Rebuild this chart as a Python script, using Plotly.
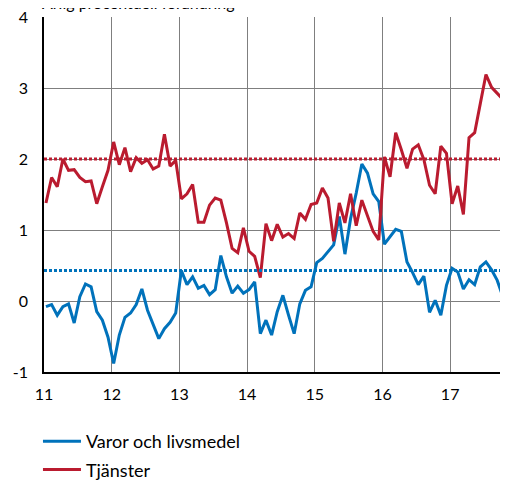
import pandas as pd
import plotly.graph_objects as go

months = pd.date_range("2011-01-01", periods=83, freq="MS")

varor = [-0.08, -0.05, -0.20, -0.08, -0.04, -0.31, 0.06, 0.24, 0.20, -0.15, -0.27, -0.51,
         -0.88, -0.48, -0.23, -0.17, -0.05, 0.17, -0.13, -0.33, -0.53, -0.39, -0.30, -0.17,
         0.43, 0.23, 0.34, 0.18, 0.22, 0.09, 0.16, 0.64, 0.34, 0.11, 0.21, 0.11,
         0.16, 0.27, -0.46, -0.27, -0.48, -0.15, 0.08, -0.20, -0.46, -0.04, 0.15, 0.20,
         0.54, 0.60, 0.69, 0.79, 1.19, 0.66, 1.16, 1.52, 1.93, 1.80, 1.51, 1.40,
         0.80, 0.91, 1.01, 0.98, 0.55, 0.40, 0.23, 0.35, -0.16, 0.01, -0.20, 0.22,
         0.46, 0.41, 0.17, 0.30, 0.23, 0.48, 0.55, 0.44, 0.29, 0.06, 0.46]

tjanster = [1.38, 1.74, 1.61, 2.00, 1.84, 1.85, 1.74, 1.68, 1.69, 1.37, 1.61, 1.84,
            2.24, 1.92, 2.16, 1.82, 2.02, 1.94, 1.99, 1.86, 1.90, 2.35, 1.90, 1.98,
            1.44, 1.51, 1.64, 1.11, 1.11, 1.35, 1.45, 1.42, 1.10, 0.74, 0.68, 1.03,
            0.70, 0.63, 0.33, 1.09, 0.85, 1.08, 0.90, 0.95, 0.88, 1.24, 1.15, 1.36,
            1.38, 1.59, 1.45, 0.84, 1.38, 1.10, 1.51, 1.06, 1.42, 1.21, 0.98, 0.86,
            2.03, 1.75, 2.37, 2.13, 1.87, 2.14, 2.20, 1.99, 1.63, 1.51, 2.18, 2.08,
            1.37, 1.62, 1.22, 2.30, 2.37, 2.78, 3.19, 3.01, 2.93, 2.84, 2.45]

target_varor = 0.43
target_tjanster = 2.0

x_tick_vals = [11, 12, 13, 14, 15, 16, 17]
x_tick_text = ["11", "12", "13", "14", "15", "16", "17"]
y_tick_vals = [-1, 0, 1, 2, 3, 4]
y_tick_text = ["-1", "0", "1", "2", "3", "4"]

# decimal year (two-digit), points plotted slightly into each month
x = [(d.year - 2000) + (d.month - 1 + 0.35) / 12 for d in months]

BLUE = "#0072BB"
RED = "#BA1B2F"
FONT = "Lato"

fig = go.Figure()
fig.add_trace(go.Scatter(x=x, y=varor, mode="lines", name="Varor och livsmedel",
                         legendgroup="a", line=dict(color=BLUE, width=3)))
fig.add_trace(go.Scatter(x=x, y=tjanster, mode="lines", name="Tjänster",
                         legendgroup="b", line=dict(color=RED, width=3)))
xr = [11, 17.855]
fig.add_trace(go.Scatter(x=xr, y=[target_tjanster] * 2, mode="lines", showlegend=False,
                         line=dict(color=RED, width=3, dash="3px,2px")))
fig.add_trace(go.Scatter(x=xr, y=[target_varor] * 2, mode="lines", showlegend=False,
                         line=dict(color=BLUE, width=3, dash="3px,2px")))

fig.update_layout(
    width=508, height=480,
    margin=dict(l=36, r=8, t=9, b=116, autoexpand=False),
    paper_bgcolor="white", plot_bgcolor="white",
    font=dict(family=FONT, size=15, color="black"),
    showlegend=True,
    legend=dict(x=-0.013, y=-0.1437, xanchor="left", yanchor="top",
                font=dict(family=FONT, size=18), tracegroupgap=2, itemwidth=38,
                bgcolor="rgba(0,0,0,0)"),
    annotations=[dict(text="Årlig procentuell förändring", xref="paper", yref="paper",
                      x=0, y=1.0, xshift=-4, yshift=3, xanchor="left", yanchor="bottom",
                      showarrow=False, font=dict(family=FONT, size=16))],
)
fig.update_xaxes(range=xr, tickvals=x_tick_vals, ticktext=x_tick_text,
                 showgrid=True, gridcolor="#7f7f7f", gridwidth=1,
                 showline=True, linecolor="black", linewidth=1.5,
                 ticks="outside", ticklen=7, tickcolor="rgba(0,0,0,0)",
                 zeroline=False, tickfont=dict(size=16), automargin=False,
                 ticklabeloverflow="allow")
fig.update_yaxes(range=[-1, 4], tickvals=y_tick_vals, ticktext=y_tick_text,
                 showgrid=True, gridcolor="#7f7f7f", gridwidth=1,
                 showline=True, linecolor="black", linewidth=1.5,
                 ticks="outside", ticklen=11, tickcolor="rgba(0,0,0,0)",
                 zeroline=False, tickfont=dict(size=16), automargin=False,
                 ticklabeloverflow="allow")

fig.write_html("out.html")
